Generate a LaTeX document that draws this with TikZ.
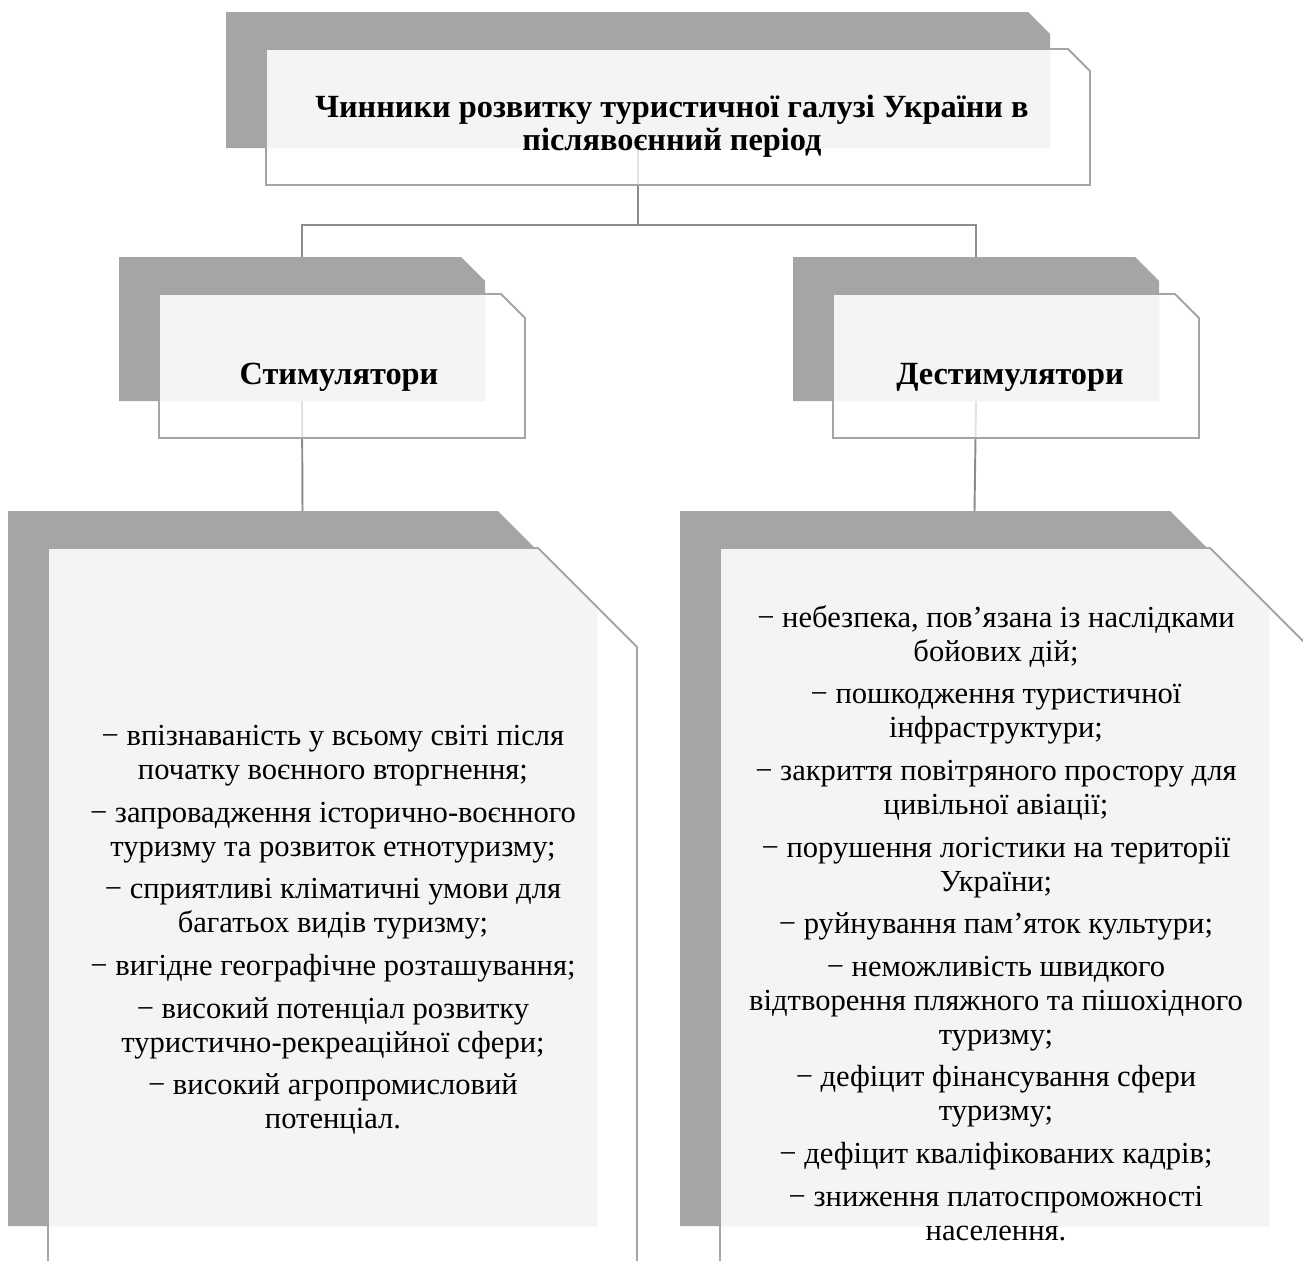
\documentclass[tikz,border=0pt]{standalone}
\usepackage{fontspec}
\setmainfont{Liberation Serif}
\usetikzlibrary{positioning}
\definecolor{myblockgray}{RGB}{165,165,165}
\definecolor{mylight}{RGB}{244,244,244}
\definecolor{mylink}{RGB}{140,140,140}
\newcommand{\cutpath}[5]{(#1,#2) -- ({#1+#3-#5},#2) -- ({#1+#3},{#2+#5}) -- ({#1+#3},{#2+#4}) -- (#1,{#2+#4}) -- cycle}
% name, left, top, width, height, cut
\newcommand{\factorbox}[6]{%
	\fill[myblockgray] \cutpath{#2}{#3}{#4}{#5}{#6};
	\begin{scope}[shift={(40,37)}]
		\fill[white,fill opacity=.75] \cutpath{#2}{#3}{#4}{#5}{#6};
		\begin{scope}
			\clip \cutpath{#2}{#3}{#4}{#5}{#6};
			\fill[mylight] \cutpath{#2-40}{#3-37}{#4}{#5}{#6};
		\end{scope}
		\draw[outl] \cutpath{#2}{#3}{#4}{#5}{#6};
	\end{scope}
	\coordinate (#1-in) at ({#2+#4/2},#3);
	\coordinate (#1-out) at ({#2+#4/2},{#3+#5});
}

\begin{document}
\begin{tikzpicture}[x=0.02cm,y=-0.02cm,
	outl/.style={draw=myblockgray,line width=1.1pt,line join=miter},
	link/.style={draw=mylink,line width=1.1pt},
	headtxt/.style={align=center,font={\bfseries\fontsize{18.4}{18.7}\selectfont}},
	listtxt/.style={align=center,font={\fontsize{17.4}{19.3}\selectfont}},
	]
	\useasboundingbox (0,0) rectangle (1303,1261);
	\clip (0,0) rectangle (1303,1261);
	
	\coordinate (bus) at (638,225);
	\coordinate (topc) at (638,148);
	\coordinate (stimc) at (302,401);
	\coordinate (destc) at (976,401);
	\coordinate (stimlow) at (302.5,511);
	\coordinate (destlow) at (974.5,511);
	\draw[link] (topc) -- (bus) -| (stimc |- 0,257);
	\draw[link] (bus) -| (destc |- 0,257);
	\draw[link] (stimc) -- (stimlow);
	\draw[link] (destc) -- (destlow);
	
	\factorbox{top}{226}{12}{824}{136}{22}
	\factorbox{stim}{119}{257}{366}{144}{24}
	\factorbox{dest}{793}{257}{366}{144}{24}
	\factorbox{stimbig}{8}{511}{589}{715}{99}
	\factorbox{destbig}{680}{511}{589}{715}{99}
	
	\node[headtxt] (toptxt) at (672,126) {Чинники розвитку туристичної галузі України в\\післявоєнний період};
	\node[headtxt] (stimtxt) at (339,377) {Стимулятори};
	\node[headtxt] (desttxt) at (1010,377) {Дестимулятори};
	
	\node[listtxt] (stimlist) at (333,930) {%
		− впізнаваність у всьому світі після\\початку воєнного вторгнення;\\[5pt]
		− запровадження історично-воєнного\\туризму та розвиток етнотуризму;\\[5pt]
		− сприятливі кліматичні умови для\\багатьох видів туризму;\\[5pt]
		− вигідне географічне розташування;\\[5pt]
		− високий потенціал розвитку\\туристично-рекреаційної сфери;\\[5pt]
		− високий агропромисловий\\потенціал.};
	\node[listtxt] (destlist) at (996,923) {%
		− небезпека, пов’язана із наслідками\\бойових дій;\\[5pt]
		− пошкодження туристичної\\інфраструктури;\\[5pt]
		− закриття повітряного простору для\\цивільної авіації;\\[5pt]
		− порушення логістики на території\\України;\\[5pt]
		− руйнування пам’яток культури;\\[5pt]
		− неможливість швидкого\\відтворення пляжного та пішохідного\\туризму;\\[5pt]
		− дефіцит фінансування сфери\\туризму;\\[5pt]
		− дефіцит кваліфікованих кадрів;\\[5pt]
		− зниження платоспроможності\\населення.};
\end{tikzpicture}
\end{document}
